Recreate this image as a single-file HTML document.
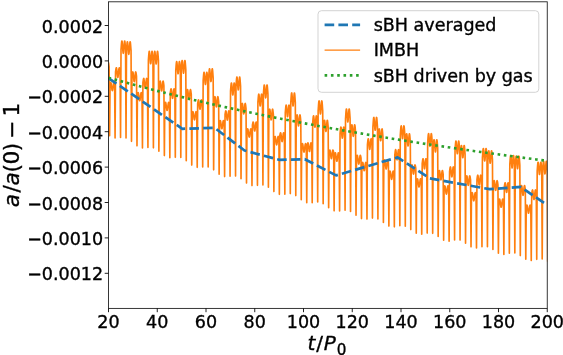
<!DOCTYPE html>
<html><head><meta charset="utf-8"><title>plot</title>
<style>html,body{margin:0;padding:0;background:#fff}svg{display:block}text{font-family:"DejaVu Sans","Liberation Sans",sans-serif;fill:#000;stroke:#000;stroke-width:0.35px}.it{font-style:oblique}</style></head><body>
<svg width="563" height="355" viewBox="0 0 563 355">
<rect width="563" height="355" fill="#fff"/>
<defs><clipPath id="c"><rect x="108.5" y="1.8" width="438.75" height="306.59999999999997"/></clipPath></defs>
<g clip-path="url(#c)" fill="none">
<path d="M104.12 131.24 L104.59 66.80 L104.75 65.62 L104.91 64.41 L105.08 63.36 L105.24 62.66 L105.40 62.42 L105.56 62.71 L105.73 63.53 L105.89 64.80 L106.05 66.37 L106.21 68.06 L106.38 69.66 L106.54 70.97 L106.70 71.83 L106.86 72.13 L107.02 71.83 L107.19 70.97 L107.35 69.66 L107.51 68.06 L107.67 66.37 L107.84 64.80 L108.00 63.53 L108.16 62.71 L108.32 62.42 L108.49 62.66 L108.65 63.36 L108.81 64.41 L108.97 65.62 L109.13 66.80 L109.60 135.76 L110.07 84.21 L110.23 83.63 L110.39 83.07 L110.55 82.66 L110.71 82.49 L110.88 82.64 L111.04 83.12 L111.20 83.94 L111.36 85.03 L111.53 86.29 L111.69 87.59 L111.85 88.80 L112.01 89.77 L112.18 90.40 L112.34 90.62 L112.50 90.40 L112.66 89.77 L112.82 88.80 L112.99 87.59 L113.15 86.29 L113.31 85.03 L113.47 83.94 L113.64 83.12 L113.80 82.64 L113.96 82.49 L114.12 82.66 L114.29 83.07 L114.45 83.63 L114.61 84.21 L115.08 137.87 L115.54 71.95 L115.70 70.80 L115.87 69.64 L116.03 68.64 L116.19 67.97 L116.35 67.76 L116.52 68.07 L116.68 68.88 L116.84 70.14 L117.00 71.69 L117.16 73.35 L117.33 74.92 L117.49 76.21 L117.65 77.06 L117.81 77.35 L117.98 77.06 L118.14 76.21 L118.30 74.92 L118.46 73.35 L118.63 71.69 L118.79 70.14 L118.95 68.88 L119.11 68.07 L119.27 67.76 L119.44 67.97 L119.60 68.64 L119.76 69.64 L119.92 70.80 L120.09 71.95 L120.55 137.48 L121.02 49.64 L121.18 47.53 L121.34 45.33 L121.50 43.32 L121.67 41.81 L121.83 40.99 L121.99 40.99 L122.15 41.81 L122.32 43.35 L122.48 45.39 L122.64 47.67 L122.80 49.87 L122.97 51.70 L123.13 52.91 L123.29 53.33 L123.45 52.91 L123.61 51.70 L123.78 49.87 L123.94 47.67 L124.10 45.39 L124.26 43.35 L124.43 41.81 L124.59 40.99 L124.75 40.99 L124.91 41.81 L125.08 43.32 L125.24 45.33 L125.40 47.53 L125.56 49.64 L126.03 137.91 L126.49 50.66 L126.66 48.52 L126.82 46.27 L126.98 44.23 L127.14 42.68 L127.31 41.83 L127.47 41.82 L127.63 42.64 L127.79 44.19 L127.95 46.25 L128.12 48.55 L128.28 50.78 L128.44 52.63 L128.60 53.86 L128.77 54.28 L128.93 53.86 L129.09 52.63 L129.25 50.78 L129.42 48.55 L129.58 46.25 L129.74 44.19 L129.90 42.64 L130.06 41.82 L130.23 41.83 L130.39 42.68 L130.55 44.23 L130.71 46.27 L130.88 48.52 L131.04 50.66 L131.50 141.34 L131.97 76.38 L132.13 75.17 L132.29 73.94 L132.46 72.87 L132.62 72.15 L132.78 71.90 L132.94 72.18 L133.11 73.00 L133.27 74.28 L133.43 75.86 L133.59 77.56 L133.76 79.18 L133.92 80.50 L134.08 81.37 L134.24 81.67 L134.40 81.37 L134.57 80.50 L134.73 79.18 L134.89 77.56 L135.05 75.86 L135.22 74.28 L135.38 73.00 L135.54 72.18 L135.70 71.90 L135.87 72.15 L136.03 72.87 L136.19 73.94 L136.35 75.17 L136.51 76.38 L136.98 145.83 L137.45 94.28 L137.61 93.70 L137.77 93.14 L137.93 92.73 L138.09 92.56 L138.26 92.70 L138.42 93.19 L138.58 94.01 L138.74 95.10 L138.91 96.36 L139.07 97.66 L139.23 98.86 L139.39 99.84 L139.56 100.47 L139.72 100.69 L139.88 100.47 L140.04 99.84 L140.20 98.86 L140.37 97.66 L140.53 96.36 L140.69 95.10 L140.85 94.01 L141.02 93.19 L141.18 92.70 L141.34 92.56 L141.50 92.73 L141.67 93.14 L141.83 93.70 L141.99 94.28 L142.46 147.95 L142.92 82.54 L143.08 81.42 L143.25 80.27 L143.41 79.30 L143.57 78.65 L143.73 78.45 L143.90 78.76 L144.06 79.58 L144.22 80.83 L144.38 82.37 L144.54 84.02 L144.71 85.58 L144.87 86.86 L145.03 87.69 L145.19 87.98 L145.36 87.69 L145.52 86.86 L145.68 85.58 L145.84 84.02 L146.01 82.37 L146.17 80.83 L146.33 79.58 L146.49 78.76 L146.65 78.45 L146.82 78.65 L146.98 79.30 L147.14 80.27 L147.30 81.42 L147.47 82.54 L147.93 147.53 L148.40 59.99 L148.56 57.90 L148.72 55.71 L148.88 53.72 L149.05 52.22 L149.21 51.41 L149.37 51.42 L149.53 52.24 L149.70 53.77 L149.86 55.80 L150.02 58.07 L150.18 60.26 L150.35 62.09 L150.51 63.29 L150.67 63.71 L150.83 63.29 L150.99 62.09 L151.16 60.26 L151.32 58.07 L151.48 55.80 L151.64 53.77 L151.81 52.24 L151.97 51.42 L152.13 51.41 L152.29 52.22 L152.46 53.72 L152.62 55.71 L152.78 57.90 L152.94 59.99 L153.41 147.85 L153.87 60.26 L154.04 58.10 L154.20 55.84 L154.36 53.79 L154.52 52.23 L154.69 51.38 L154.85 51.36 L155.01 52.18 L155.17 53.73 L155.33 55.80 L155.50 58.11 L155.66 60.35 L155.82 62.21 L155.98 63.43 L156.15 63.86 L156.31 63.43 L156.47 62.21 L156.63 60.35 L156.80 58.11 L156.96 55.80 L157.12 53.73 L157.28 52.18 L157.44 51.36 L157.61 51.38 L157.77 52.23 L157.93 53.79 L158.09 55.84 L158.26 58.10 L158.42 60.26 L158.88 151.17 L159.35 85.67 L159.51 84.44 L159.67 83.18 L159.84 82.09 L160.00 81.35 L160.16 81.08 L160.32 81.36 L160.49 82.18 L160.65 83.46 L160.81 85.05 L160.97 86.77 L161.14 88.40 L161.30 89.74 L161.46 90.62 L161.62 90.92 L161.78 90.62 L161.95 89.74 L162.11 88.40 L162.27 86.77 L162.43 85.05 L162.60 83.46 L162.76 82.18 L162.92 81.36 L163.08 81.08 L163.25 81.35 L163.41 82.09 L163.57 83.18 L163.73 84.44 L163.89 85.67 L164.36 155.61 L164.83 104.05 L164.99 103.46 L165.15 102.91 L165.31 102.49 L165.47 102.32 L165.64 102.46 L165.80 102.95 L165.96 103.77 L166.12 104.86 L166.29 106.12 L166.45 107.42 L166.61 108.63 L166.77 109.60 L166.94 110.23 L167.10 110.45 L167.26 110.23 L167.42 109.60 L167.58 108.63 L167.75 107.42 L167.91 106.12 L168.07 104.86 L168.23 103.77 L168.40 102.95 L168.56 102.46 L168.72 102.32 L168.88 102.49 L169.05 102.91 L169.21 103.46 L169.37 104.05 L169.84 157.75 L170.30 92.84 L170.46 91.74 L170.63 90.62 L170.79 89.66 L170.95 89.03 L171.11 88.85 L171.28 89.17 L171.44 89.99 L171.60 91.23 L171.76 92.76 L171.92 94.39 L172.09 95.94 L172.25 97.20 L172.41 98.03 L172.57 98.32 L172.74 98.03 L172.90 97.20 L173.06 95.94 L173.22 94.39 L173.39 92.76 L173.55 91.23 L173.71 89.99 L173.87 89.17 L174.03 88.85 L174.20 89.03 L174.36 89.66 L174.52 90.62 L174.68 91.74 L174.85 92.84 L175.31 157.30 L175.78 70.07 L175.94 67.99 L176.10 65.82 L176.26 63.85 L176.43 62.36 L176.59 61.56 L176.75 61.57 L176.91 62.39 L177.08 63.91 L177.24 65.94 L177.40 68.20 L177.56 70.39 L177.73 72.20 L177.89 73.39 L178.05 73.81 L178.21 73.39 L178.37 72.20 L178.54 70.39 L178.70 68.20 L178.86 65.94 L179.02 63.91 L179.19 62.39 L179.35 61.57 L179.51 61.56 L179.67 62.36 L179.84 63.85 L180.00 65.82 L180.16 67.99 L180.32 70.07 L180.79 157.51 L181.25 69.53 L181.42 67.36 L181.58 65.08 L181.74 63.02 L181.90 61.44 L182.07 60.58 L182.23 60.56 L182.39 61.38 L182.55 62.94 L182.71 65.01 L182.88 67.33 L183.04 69.58 L183.20 71.45 L183.36 72.68 L183.53 73.11 L183.69 72.68 L183.85 71.45 L184.01 69.58 L184.18 67.33 L184.34 65.01 L184.50 62.94 L184.66 61.38 L184.82 60.56 L184.99 60.58 L185.15 61.44 L185.31 63.02 L185.47 65.08 L185.64 67.36 L185.80 69.53 L186.26 160.69 L186.73 94.32 L186.89 93.05 L187.05 91.75 L187.22 90.62 L187.38 89.85 L187.54 89.56 L187.70 89.83 L187.87 90.65 L188.03 91.94 L188.19 93.55 L188.35 95.29 L188.52 96.94 L188.68 98.30 L188.84 99.19 L189.00 99.51 L189.16 99.19 L189.33 98.30 L189.49 96.94 L189.65 95.29 L189.81 93.55 L189.98 91.94 L190.14 90.65 L190.30 89.83 L190.46 89.56 L190.63 89.85 L190.79 90.62 L190.95 91.75 L191.11 93.05 L191.27 94.32 L191.74 165.09 L192.21 113.44 L192.37 112.85 L192.53 112.29 L192.69 111.87 L192.85 111.69 L193.02 111.83 L193.18 112.31 L193.34 113.13 L193.50 114.22 L193.67 115.49 L193.83 116.79 L193.99 118.00 L194.15 118.98 L194.32 119.61 L194.48 119.83 L194.64 119.61 L194.80 118.98 L194.96 118.00 L195.13 116.79 L195.29 115.49 L195.45 114.22 L195.61 113.13 L195.78 112.31 L195.94 111.83 L196.10 111.69 L196.26 111.87 L196.43 112.29 L196.59 112.85 L196.75 113.44 L197.22 167.31 L197.68 103.63 L197.84 102.58 L198.01 101.52 L198.17 100.62 L198.33 100.03 L198.49 99.88 L198.66 100.22 L198.82 101.04 L198.98 102.27 L199.14 103.77 L199.30 105.37 L199.47 106.88 L199.63 108.11 L199.79 108.92 L199.95 109.20 L200.12 108.92 L200.28 108.11 L200.44 106.88 L200.60 105.37 L200.77 103.77 L200.93 102.27 L201.09 101.04 L201.25 100.22 L201.41 99.88 L201.58 100.03 L201.74 100.62 L201.90 101.52 L202.06 102.58 L202.23 103.63 L202.69 166.89 L203.16 80.65 L203.32 78.62 L203.48 76.50 L203.64 74.58 L203.81 73.13 L203.97 72.36 L204.13 72.39 L204.29 73.21 L204.46 74.72 L204.62 76.72 L204.78 78.95 L204.94 81.10 L205.11 82.89 L205.27 84.07 L205.43 84.48 L205.59 84.07 L205.75 82.89 L205.92 81.10 L206.08 78.95 L206.24 76.72 L206.40 74.72 L206.57 73.21 L206.73 72.39 L206.89 72.36 L207.05 73.13 L207.22 74.58 L207.38 76.50 L207.54 78.62 L207.70 80.65 L208.17 166.92 L208.63 78.02 L208.80 75.82 L208.96 73.50 L209.12 71.40 L209.28 69.79 L209.45 68.91 L209.61 68.88 L209.77 69.70 L209.93 71.26 L210.09 73.36 L210.26 75.70 L210.42 77.97 L210.58 79.86 L210.74 81.10 L210.91 81.54 L211.07 81.10 L211.23 79.86 L211.39 77.97 L211.56 75.70 L211.72 73.36 L211.88 71.26 L212.04 69.70 L212.20 68.88 L212.37 68.91 L212.53 69.79 L212.69 71.40 L212.85 73.50 L213.02 75.82 L213.18 78.02 L213.64 169.85 L214.11 101.80 L214.27 100.46 L214.43 99.08 L214.60 97.88 L214.76 97.04 L214.92 96.71 L215.08 96.95 L215.25 97.77 L215.41 99.08 L215.57 100.73 L215.73 102.52 L215.90 104.22 L216.06 105.62 L216.22 106.54 L216.38 106.86 L216.54 106.54 L216.71 105.62 L216.87 104.22 L217.03 102.52 L217.19 100.73 L217.36 99.08 L217.52 97.77 L217.68 96.95 L217.84 96.71 L218.01 97.04 L218.17 97.88 L218.33 99.08 L218.49 100.46 L218.65 101.80 L219.12 174.22 L219.59 122.35 L219.75 121.75 L219.91 121.17 L220.07 120.74 L220.23 120.55 L220.40 120.68 L220.56 121.16 L220.72 121.98 L220.88 123.08 L221.05 124.35 L221.21 125.66 L221.37 126.88 L221.53 127.86 L221.70 128.50 L221.86 128.72 L222.02 128.50 L222.18 127.86 L222.34 126.88 L222.51 125.66 L222.67 124.35 L222.83 123.08 L222.99 121.98 L223.16 121.16 L223.32 120.68 L223.48 120.55 L223.64 120.74 L223.81 121.17 L223.97 121.75 L224.13 122.35 L224.60 176.60 L225.06 114.37 L225.22 113.39 L225.39 112.39 L225.55 111.56 L225.71 111.03 L225.87 110.91 L226.04 111.27 L226.20 112.09 L226.36 113.30 L226.52 114.77 L226.68 116.33 L226.85 117.80 L227.01 119.00 L227.17 119.79 L227.33 120.06 L227.50 119.79 L227.66 119.00 L227.82 117.80 L227.98 116.33 L228.15 114.77 L228.31 113.30 L228.47 112.09 L228.63 111.27 L228.79 110.91 L228.96 111.03 L229.12 111.56 L229.28 112.39 L229.44 113.39 L229.61 114.37 L230.07 176.23 L230.54 91.10 L230.70 89.12 L230.86 87.05 L231.02 85.18 L231.19 83.78 L231.35 83.05 L231.51 83.09 L231.67 83.91 L231.84 85.41 L232.00 87.38 L232.16 89.58 L232.32 91.70 L232.49 93.45 L232.65 94.61 L232.81 95.02 L232.97 94.61 L233.13 93.45 L233.30 91.70 L233.46 89.58 L233.62 87.38 L233.78 85.41 L233.95 83.91 L234.11 83.09 L234.27 83.05 L234.43 83.78 L234.60 85.18 L234.76 87.05 L234.92 89.12 L235.08 91.10 L235.55 176.05 L236.01 86.38 L236.18 84.15 L236.34 81.80 L236.50 79.67 L236.66 78.04 L236.83 77.15 L236.99 77.10 L237.15 77.92 L237.31 79.50 L237.47 81.61 L237.64 83.97 L237.80 86.25 L237.96 88.15 L238.12 89.41 L238.29 89.85 L238.45 89.41 L238.61 88.15 L238.77 86.25 L238.94 83.97 L239.10 81.61 L239.26 79.50 L239.42 77.92 L239.58 77.10 L239.75 77.15 L239.91 78.04 L240.07 79.67 L240.23 81.80 L240.40 84.15 L240.56 86.38 L241.02 178.73 L241.49 108.85 L241.65 107.43 L241.81 105.97 L241.98 104.69 L242.14 103.78 L242.30 103.40 L242.46 103.62 L242.63 104.44 L242.79 105.77 L242.95 107.46 L243.11 109.30 L243.28 111.05 L243.44 112.49 L243.60 113.44 L243.76 113.77 L243.92 113.44 L244.09 112.49 L244.25 111.05 L244.41 109.30 L244.57 107.46 L244.74 105.77 L244.90 104.44 L245.06 103.62 L245.22 103.40 L245.39 103.78 L245.55 104.69 L245.71 105.97 L245.87 107.43 L246.03 108.85 L246.50 183.05 L246.97 130.74 L247.13 130.11 L247.29 129.51 L247.45 129.06 L247.61 128.85 L247.78 128.97 L247.94 129.44 L248.10 130.26 L248.26 131.36 L248.43 132.64 L248.59 133.97 L248.75 135.20 L248.91 136.20 L249.08 136.85 L249.24 137.07 L249.40 136.85 L249.56 136.20 L249.72 135.20 L249.89 133.97 L250.05 132.64 L250.21 131.36 L250.37 130.26 L250.54 129.44 L250.70 128.97 L250.86 128.85 L251.02 129.06 L251.19 129.51 L251.35 130.11 L251.51 130.74 L251.98 185.61 L252.44 125.13 L252.60 124.22 L252.77 123.31 L252.93 122.55 L253.09 122.08 L253.25 122.02 L253.42 122.40 L253.58 123.22 L253.74 124.40 L253.90 125.83 L254.06 127.35 L254.23 128.77 L254.39 129.93 L254.55 130.69 L254.71 130.95 L254.88 130.69 L255.04 129.93 L255.20 128.77 L255.36 127.35 L255.53 125.83 L255.69 124.40 L255.85 123.22 L256.01 122.40 L256.17 122.02 L256.34 122.08 L256.50 122.55 L256.66 123.31 L256.82 124.22 L256.99 125.13 L257.45 185.35 L257.92 101.88 L258.08 99.98 L258.24 98.00 L258.40 96.21 L258.57 94.88 L258.73 94.19 L258.89 94.26 L259.05 95.08 L259.22 96.55 L259.38 98.49 L259.54 100.64 L259.70 102.70 L259.87 104.42 L260.03 105.55 L260.19 105.94 L260.35 105.55 L260.51 104.42 L260.68 102.70 L260.84 100.64 L261.00 98.49 L261.16 96.55 L261.33 95.08 L261.49 94.26 L261.65 94.19 L261.81 94.88 L261.98 96.21 L262.14 98.00 L262.30 99.98 L262.46 101.88 L262.93 184.96 L263.39 94.42 L263.56 92.16 L263.72 89.78 L263.88 87.61 L264.04 85.96 L264.21 85.05 L264.37 84.99 L264.53 85.81 L264.69 87.39 L264.85 89.52 L265.02 91.90 L265.18 94.20 L265.34 96.12 L265.50 97.39 L265.67 97.83 L265.83 97.39 L265.99 96.12 L266.15 94.20 L266.32 91.90 L266.48 89.52 L266.64 87.39 L266.80 85.81 L266.96 84.99 L267.13 85.05 L267.29 85.96 L267.45 87.61 L267.61 89.78 L267.78 92.16 L267.94 94.42 L268.40 187.29 L268.87 115.09 L269.03 113.57 L269.19 112.00 L269.36 110.62 L269.52 109.62 L269.68 109.18 L269.84 109.37 L270.01 110.19 L270.17 111.55 L270.33 113.29 L270.49 115.19 L270.66 117.01 L270.82 118.50 L270.98 119.49 L271.14 119.83 L271.30 119.49 L271.47 118.50 L271.63 117.01 L271.79 115.19 L271.95 113.29 L272.12 111.55 L272.28 110.19 L272.44 109.37 L272.60 109.18 L272.77 109.62 L272.93 110.62 L273.09 112.00 L273.25 113.57 L273.41 115.09 L273.88 191.55 L274.35 138.50 L274.51 137.85 L274.67 137.21 L274.83 136.72 L274.99 136.48 L275.16 136.57 L275.32 137.03 L275.48 137.85 L275.64 138.97 L275.81 140.26 L275.97 141.62 L276.13 142.87 L276.29 143.89 L276.46 144.55 L276.62 144.78 L276.78 144.55 L276.94 143.89 L277.10 142.87 L277.27 141.62 L277.43 140.26 L277.59 138.97 L277.75 137.85 L277.92 137.03 L278.08 136.57 L278.24 136.48 L278.40 136.72 L278.57 137.21 L278.73 137.85 L278.89 138.50 L279.36 194.32 L279.82 135.56 L279.98 134.72 L280.15 133.89 L280.31 133.20 L280.47 132.80 L280.63 132.78 L280.80 133.19 L280.96 134.01 L281.12 135.17 L281.28 136.56 L281.44 138.03 L281.61 139.41 L281.77 140.53 L281.93 141.26 L282.09 141.51 L282.26 141.26 L282.42 140.53 L282.58 139.41 L282.74 138.03 L282.91 136.56 L283.07 135.17 L283.23 134.01 L283.39 133.19 L283.55 132.78 L283.72 132.80 L283.88 133.20 L284.04 133.89 L284.20 134.72 L284.37 135.56 L284.83 194.19 L285.30 112.48 L285.46 110.67 L285.62 108.77 L285.78 107.07 L285.95 105.81 L286.11 105.17 L286.27 105.26 L286.43 106.08 L286.60 107.53 L286.76 109.43 L286.92 111.52 L287.08 113.54 L287.25 115.21 L287.41 116.31 L287.57 116.69 L287.73 116.31 L287.89 115.21 L288.06 113.54 L288.22 111.52 L288.38 109.43 L288.54 107.53 L288.71 106.08 L288.87 105.26 L289.03 105.17 L289.19 105.81 L289.36 107.07 L289.52 108.77 L289.68 110.67 L289.84 112.48 L290.31 193.60 L290.77 102.48 L290.94 100.20 L291.10 97.80 L291.26 95.62 L291.42 93.95 L291.59 93.02 L291.75 92.97 L291.91 93.79 L292.07 95.37 L292.23 97.51 L292.40 99.90 L292.56 102.21 L292.72 104.14 L292.88 105.41 L293.05 105.86 L293.21 105.41 L293.37 104.14 L293.53 102.21 L293.70 99.90 L293.86 97.51 L294.02 95.37 L294.18 93.79 L294.34 92.97 L294.51 93.02 L294.67 93.95 L294.83 95.62 L294.99 97.80 L295.16 100.20 L295.32 102.48 L295.78 195.61 L296.25 121.23 L296.41 119.62 L296.57 117.96 L296.74 116.48 L296.90 115.40 L297.06 114.90 L297.22 115.06 L297.39 115.88 L297.55 117.27 L297.71 119.06 L297.87 121.01 L298.04 122.89 L298.20 124.44 L298.36 125.46 L298.52 125.81 L298.68 125.46 L298.85 124.44 L299.01 122.89 L299.17 121.01 L299.33 119.06 L299.50 117.27 L299.66 115.88 L299.82 115.06 L299.98 114.90 L300.15 115.40 L300.31 116.48 L300.47 117.96 L300.63 119.62 L300.79 121.23 L301.26 199.77 L301.73 145.81 L301.89 145.11 L302.05 144.43 L302.21 143.89 L302.37 143.61 L302.54 143.68 L302.70 144.13 L302.86 144.95 L303.02 146.07 L303.19 147.40 L303.35 148.77 L303.51 150.06 L303.67 151.10 L303.84 151.77 L304.00 152.01 L304.16 151.77 L304.32 151.10 L304.48 150.06 L304.65 148.77 L304.81 147.40 L304.97 146.07 L305.13 144.95 L305.30 144.13 L305.46 143.68 L305.62 143.61 L305.78 143.89 L305.95 144.43 L306.11 145.11 L306.27 145.81 L306.74 202.73 L307.20 145.44 L307.36 144.66 L307.53 143.89 L307.69 143.27 L307.85 142.92 L308.01 142.94 L308.18 143.37 L308.34 144.19 L308.50 145.33 L308.66 146.70 L308.82 148.12 L308.99 149.46 L309.15 150.54 L309.31 151.25 L309.47 151.50 L309.64 151.25 L309.80 150.54 L309.96 149.46 L310.12 148.12 L310.29 146.70 L310.45 145.33 L310.61 144.19 L310.77 143.37 L310.93 142.94 L311.10 142.92 L311.26 143.27 L311.42 143.89 L311.58 144.66 L311.75 145.44 L312.21 202.73 L312.68 122.82 L312.84 121.08 L313.00 119.27 L313.16 117.66 L313.33 116.47 L313.49 115.88 L313.65 116.00 L313.81 116.82 L313.98 118.25 L314.14 120.10 L314.30 122.14 L314.46 124.10 L314.63 125.73 L314.79 126.79 L314.95 127.17 L315.11 126.79 L315.27 125.73 L315.44 124.10 L315.60 122.14 L315.76 120.10 L315.92 118.25 L316.09 116.82 L316.25 116.00 L316.41 115.88 L316.57 116.47 L316.74 117.66 L316.90 119.27 L317.06 121.08 L317.22 122.82 L317.69 201.98 L318.15 110.50 L318.32 108.22 L318.48 105.81 L318.64 103.62 L318.80 101.95 L318.97 101.02 L319.13 100.96 L319.29 101.78 L319.45 103.37 L319.61 105.50 L319.78 107.90 L319.94 110.22 L320.10 112.15 L320.26 113.43 L320.43 113.87 L320.59 113.43 L320.75 112.15 L320.91 110.22 L321.08 107.90 L321.24 105.50 L321.40 103.37 L321.56 101.78 L321.72 100.96 L321.89 101.02 L322.05 101.95 L322.21 103.62 L322.37 105.81 L322.54 108.22 L322.70 110.50 L323.16 203.67 L323.63 127.05 L323.79 125.36 L323.95 123.59 L324.12 122.02 L324.28 120.86 L324.44 120.30 L324.60 120.43 L324.77 121.25 L324.93 122.67 L325.09 124.50 L325.25 126.52 L325.42 128.45 L325.58 130.05 L325.74 131.11 L325.90 131.48 L326.06 131.11 L326.23 130.05 L326.39 128.45 L326.55 126.52 L326.71 124.50 L326.88 122.67 L327.04 121.25 L327.20 120.43 L327.36 120.30 L327.53 120.86 L327.69 122.02 L327.85 123.59 L328.01 125.36 L328.17 127.05 L328.64 207.69 L329.11 152.47 L329.27 151.71 L329.43 150.97 L329.59 150.37 L329.75 150.04 L329.92 150.07 L330.08 150.51 L330.24 151.33 L330.40 152.47 L330.57 153.82 L330.73 155.23 L330.89 156.55 L331.05 157.62 L331.22 158.32 L331.38 158.56 L331.54 158.32 L331.70 157.62 L331.86 156.55 L332.03 155.23 L332.19 153.82 L332.35 152.47 L332.51 151.33 L332.68 150.51 L332.84 150.07 L333.00 150.04 L333.16 150.37 L333.33 150.97 L333.49 151.71 L333.65 152.47 L334.12 210.83 L334.58 155.08 L334.74 154.36 L334.91 153.66 L335.07 153.11 L335.23 152.82 L335.39 152.88 L335.56 153.32 L335.72 154.14 L335.88 155.27 L336.04 156.60 L336.20 157.99 L336.37 159.28 L336.53 160.33 L336.69 161.01 L336.85 161.25 L337.02 161.01 L337.18 160.33 L337.34 159.28 L337.50 157.99 L337.67 156.60 L337.83 155.27 L337.99 154.14 L338.15 153.32 L338.31 152.88 L338.48 152.82 L338.64 153.11 L338.80 153.66 L338.96 154.36 L339.13 155.08 L339.59 211.04 L340.06 133.53 L340.22 131.90 L340.38 130.21 L340.54 128.70 L340.71 127.61 L340.87 127.09 L341.03 127.24 L341.19 128.06 L341.36 129.46 L341.52 131.26 L341.68 133.23 L341.84 135.12 L342.01 136.68 L342.17 137.71 L342.33 138.07 L342.49 137.71 L342.65 136.68 L342.82 135.12 L342.98 133.23 L343.14 131.26 L343.30 129.46 L343.47 128.06 L343.63 127.24 L343.79 127.09 L343.95 127.61 L344.12 128.70 L344.28 130.21 L344.44 131.90 L344.60 133.53 L345.07 210.15 L345.53 118.55 L345.70 116.26 L345.86 113.87 L346.02 111.68 L346.18 110.01 L346.35 109.08 L346.51 109.03 L346.67 109.85 L346.83 111.43 L346.99 113.57 L347.16 115.96 L347.32 118.28 L347.48 120.21 L347.64 121.48 L347.81 121.92 L347.97 121.48 L348.13 120.21 L348.29 118.28 L348.46 115.96 L348.62 113.57 L348.78 111.43 L348.94 109.85 L349.10 109.03 L349.27 109.08 L349.43 110.01 L349.59 111.68 L349.75 113.87 L349.92 116.26 L350.08 118.55 L350.54 211.43 L351.01 132.05 L351.17 130.24 L351.33 128.35 L351.50 126.66 L351.66 125.41 L351.82 124.78 L351.98 124.87 L352.15 125.69 L352.31 127.14 L352.47 129.03 L352.63 131.12 L352.80 133.13 L352.96 134.79 L353.12 135.89 L353.28 136.27 L353.44 135.89 L353.61 134.79 L353.77 133.13 L353.93 131.12 L354.09 129.03 L354.26 127.14 L354.42 125.69 L354.58 124.87 L354.74 124.78 L354.91 125.41 L355.07 126.66 L355.23 128.35 L355.39 130.24 L355.55 132.05 L356.02 215.25 L356.49 158.15 L356.65 157.31 L356.81 156.47 L356.97 155.79 L357.13 155.39 L357.30 155.37 L357.46 155.77 L357.62 156.59 L357.78 157.76 L357.95 159.15 L358.11 160.62 L358.27 161.99 L358.43 163.11 L358.60 163.84 L358.76 164.10 L358.92 163.84 L359.08 163.11 L359.24 161.99 L359.41 160.62 L359.57 159.15 L359.73 157.76 L359.89 156.59 L360.06 155.77 L360.22 155.37 L360.38 155.39 L360.54 155.79 L360.71 156.47 L360.87 157.31 L361.03 158.15 L361.50 218.61 L361.96 164.39 L362.12 163.74 L362.29 163.11 L362.45 162.62 L362.61 162.38 L362.77 162.48 L362.94 162.94 L363.10 163.76 L363.26 164.87 L363.42 166.17 L363.58 167.52 L363.75 168.77 L363.91 169.78 L364.07 170.44 L364.23 170.67 L364.40 170.44 L364.56 169.78 L364.72 168.77 L364.88 167.52 L365.05 166.17 L365.21 164.87 L365.37 163.76 L365.53 162.94 L365.69 162.48 L365.86 162.38 L366.02 162.62 L366.18 163.11 L366.34 163.74 L366.51 164.39 L366.97 219.11 L367.44 144.55 L367.60 143.06 L367.76 141.51 L367.92 140.14 L368.09 139.16 L368.25 138.73 L368.41 138.92 L368.57 139.74 L368.74 141.10 L368.90 142.83 L369.06 144.72 L369.22 146.52 L369.39 148.01 L369.55 148.99 L369.71 149.33 L369.87 148.99 L370.03 148.01 L370.20 146.52 L370.36 144.72 L370.52 142.83 L370.68 141.10 L370.85 139.74 L371.01 138.92 L371.17 138.73 L371.33 139.16 L371.50 140.14 L371.66 141.51 L371.82 143.06 L371.98 144.55 L372.45 218.11 L372.91 126.84 L373.08 124.58 L373.24 122.21 L373.40 120.06 L373.56 118.41 L373.73 117.50 L373.89 117.45 L374.05 118.27 L374.21 119.85 L374.37 121.97 L374.54 124.34 L374.70 126.64 L374.86 128.56 L375.02 129.82 L375.19 130.26 L375.35 129.82 L375.51 128.56 L375.67 126.64 L375.84 124.34 L376.00 121.97 L376.16 119.85 L376.32 118.27 L376.48 117.45 L376.65 117.50 L376.81 118.41 L376.97 120.06 L377.13 122.21 L377.30 124.58 L377.46 126.84 L377.92 218.94 L378.39 136.73 L378.55 134.81 L378.71 132.80 L378.88 130.98 L379.04 129.63 L379.20 128.93 L379.36 128.98 L379.53 129.80 L379.69 131.28 L379.85 133.24 L380.01 135.40 L380.18 137.48 L380.34 139.21 L380.50 140.35 L380.66 140.75 L380.82 140.35 L380.99 139.21 L381.15 137.48 L381.31 135.40 L381.47 133.24 L381.64 131.28 L381.80 129.80 L381.96 128.98 L382.12 128.93 L382.29 129.63 L382.45 130.98 L382.61 132.80 L382.77 134.81 L382.93 136.73 L383.40 222.52 L383.87 163.19 L384.03 162.25 L384.19 161.31 L384.35 160.52 L384.51 160.03 L384.68 159.95 L384.84 160.32 L385.00 161.14 L385.16 162.34 L385.33 163.78 L385.49 165.31 L385.65 166.75 L385.81 167.93 L385.98 168.69 L386.14 168.96 L386.30 168.69 L386.46 167.93 L386.62 166.75 L386.79 165.31 L386.95 163.78 L387.11 162.34 L387.27 161.14 L387.44 160.32 L387.60 159.95 L387.76 160.03 L387.92 160.52 L388.09 161.31 L388.25 162.25 L388.41 163.19 L388.88 226.07 L389.34 172.91 L389.50 172.30 L389.67 171.71 L389.83 171.27 L389.99 171.07 L390.15 171.19 L390.32 171.67 L390.48 172.49 L390.64 173.59 L390.80 174.86 L390.96 176.18 L391.13 177.41 L391.29 178.40 L391.45 179.04 L391.61 179.27 L391.78 179.04 L391.94 178.40 L392.10 177.41 L392.26 176.18 L392.43 174.86 L392.59 173.59 L392.75 172.49 L392.91 171.67 L393.07 171.19 L393.24 171.07 L393.40 171.27 L393.56 171.71 L393.72 172.30 L393.89 172.91 L394.35 226.85 L394.82 154.90 L394.98 153.52 L395.14 152.10 L395.30 150.85 L395.47 149.98 L395.63 149.61 L395.79 149.85 L395.95 150.67 L396.12 151.99 L396.28 153.66 L396.44 155.47 L396.60 157.20 L396.77 158.63 L396.93 159.56 L397.09 159.88 L397.25 159.56 L397.41 158.63 L397.58 157.20 L397.74 155.47 L397.90 153.66 L398.06 151.99 L398.23 150.67 L398.39 149.85 L398.55 149.61 L398.71 149.98 L398.88 150.85 L399.04 152.10 L399.20 153.52 L399.36 154.90 L399.83 225.78 L400.29 135.11 L400.46 132.89 L400.62 130.56 L400.78 128.44 L400.94 126.83 L401.11 125.94 L401.27 125.90 L401.43 126.72 L401.59 128.29 L401.75 130.39 L401.92 132.74 L402.08 135.02 L402.24 136.91 L402.40 138.16 L402.57 138.60 L402.73 138.16 L402.89 136.91 L403.05 135.02 L403.22 132.74 L403.38 130.39 L403.54 128.29 L403.70 126.72 L403.86 125.90 L404.03 125.94 L404.19 126.83 L404.35 128.44 L404.51 130.56 L404.68 132.89 L404.84 135.11 L405.30 226.24 L405.77 142.01 L405.93 140.00 L406.09 137.91 L406.26 136.01 L406.42 134.59 L406.58 133.83 L406.74 133.86 L406.91 134.68 L407.07 136.19 L407.23 138.18 L407.39 140.39 L407.56 142.53 L407.72 144.30 L407.88 145.47 L408.04 145.88 L408.20 145.47 L408.37 144.30 L408.53 142.53 L408.69 140.39 L408.85 138.18 L409.02 136.19 L409.18 134.68 L409.34 133.86 L409.50 133.83 L409.67 134.59 L409.83 136.01 L409.99 137.91 L410.15 140.00 L410.31 142.01 L410.78 229.59 L411.25 168.49 L411.41 167.47 L411.57 166.45 L411.73 165.58 L411.89 165.03 L412.06 164.90 L412.22 165.25 L412.38 166.07 L412.54 167.29 L412.71 168.77 L412.87 170.35 L413.03 171.84 L413.19 173.05 L413.36 173.85 L413.52 174.13 L413.68 173.85 L413.84 173.05 L414.00 171.84 L414.17 170.35 L414.33 168.77 L414.49 167.29 L414.65 166.07 L414.82 165.25 L414.98 164.90 L415.14 165.03 L415.30 165.58 L415.47 166.45 L415.63 167.47 L415.79 168.49 L416.26 233.25 L416.72 180.55 L416.88 179.96 L417.05 179.39 L417.21 178.96 L417.37 178.78 L417.53 178.91 L417.70 179.39 L417.86 180.21 L418.02 181.31 L418.18 182.57 L418.34 183.88 L418.51 185.10 L418.67 186.08 L418.83 186.72 L418.99 186.94 L419.16 186.72 L419.32 186.08 L419.48 185.10 L419.64 183.88 L419.81 182.57 L419.97 181.31 L420.13 180.21 L420.29 179.39 L420.45 178.91 L420.62 178.78 L420.78 178.96 L420.94 179.39 L421.10 179.96 L421.27 180.55 L421.73 234.20 L422.20 163.72 L422.36 162.41 L422.52 161.06 L422.68 159.88 L422.85 159.06 L423.01 158.75 L423.17 159.00 L423.33 159.82 L423.50 161.12 L423.66 162.76 L423.82 164.53 L423.98 166.21 L424.15 167.60 L424.31 168.51 L424.47 168.82 L424.63 168.51 L424.79 167.60 L424.96 166.21 L425.12 164.53 L425.28 162.76 L425.44 161.12 L425.61 159.82 L425.77 159.00 L425.93 158.75 L426.09 159.06 L426.26 159.88 L426.42 161.06 L426.58 162.41 L426.74 163.72 L427.21 233.06 L427.67 142.77 L427.84 140.57 L428.00 138.27 L428.16 136.18 L428.32 134.58 L428.49 133.71 L428.65 133.68 L428.81 134.50 L428.97 136.06 L429.13 138.15 L429.30 140.48 L429.46 142.75 L429.62 144.63 L429.78 145.87 L429.95 146.30 L430.11 145.87 L430.27 144.63 L430.43 142.75 L430.60 140.48 L430.76 138.15 L430.92 136.06 L431.08 134.50 L431.24 133.68 L431.41 133.71 L431.57 134.58 L431.73 136.18 L431.89 138.27 L432.06 140.57 L432.22 142.77 L432.68 233.31 L433.15 148.07 L433.31 146.03 L433.47 143.90 L433.64 141.96 L433.80 140.50 L433.96 139.73 L434.12 139.75 L434.29 140.57 L434.45 142.08 L434.61 144.09 L434.77 146.33 L434.94 148.49 L435.10 150.28 L435.26 151.47 L435.42 151.88 L435.58 151.47 L435.75 150.28 L435.91 148.49 L436.07 146.33 L436.23 144.09 L436.40 142.08 L436.56 140.57 L436.72 139.75 L436.88 139.73 L437.05 140.50 L437.21 141.96 L437.37 143.90 L437.53 146.03 L437.69 148.07 L438.16 236.50 L438.63 174.33 L438.79 173.27 L438.95 172.20 L439.11 171.29 L439.27 170.70 L439.44 170.54 L439.60 170.88 L439.76 171.70 L439.92 172.93 L440.09 174.43 L440.25 176.04 L440.41 177.55 L440.57 178.80 L440.74 179.61 L440.90 179.89 L441.06 179.61 L441.22 178.80 L441.38 177.55 L441.55 176.04 L441.71 174.43 L441.87 172.93 L442.03 171.70 L442.20 170.88 L442.36 170.54 L442.52 170.70 L442.68 171.29 L442.85 172.20 L443.01 173.27 L443.17 174.33 L443.64 240.18 L444.10 187.63 L444.26 187.04 L444.43 186.48 L444.59 186.06 L444.75 185.89 L444.91 186.02 L445.08 186.51 L445.24 187.33 L445.40 188.42 L445.56 189.68 L445.72 190.99 L445.89 192.20 L446.05 193.17 L446.21 193.81 L446.37 194.03 L446.54 193.81 L446.70 193.17 L446.86 192.20 L447.02 190.99 L447.19 189.68 L447.35 188.42 L447.51 187.33 L447.67 186.51 L447.83 186.02 L448.00 185.89 L448.16 186.06 L448.32 186.48 L448.48 187.04 L448.65 187.63 L449.11 241.21 L449.58 171.69 L449.74 170.42 L449.90 169.12 L450.06 167.99 L450.23 167.21 L450.39 166.92 L450.55 167.19 L450.71 168.01 L450.88 169.30 L451.04 170.91 L451.20 172.65 L451.36 174.31 L451.53 175.67 L451.69 176.56 L451.85 176.87 L452.01 176.56 L452.17 175.67 L452.34 174.31 L452.50 172.65 L452.66 170.91 L452.82 169.30 L452.99 168.01 L453.15 167.19 L453.31 166.92 L453.47 167.21 L453.64 167.99 L453.80 169.12 L453.96 170.42 L454.12 171.69 L454.59 240.04 L455.05 150.07 L455.22 147.89 L455.38 145.61 L455.54 143.54 L455.70 141.96 L455.87 141.10 L456.03 141.08 L456.19 141.90 L456.35 143.45 L456.51 145.53 L456.68 147.85 L456.84 150.10 L457.00 151.97 L457.16 153.20 L457.33 153.64 L457.49 153.20 L457.65 151.97 L457.81 150.10 L457.98 147.85 L458.14 145.53 L458.30 143.45 L458.46 141.90 L458.62 141.08 L458.79 141.10 L458.95 141.96 L459.11 143.54 L459.27 145.61 L459.44 147.89 L459.60 150.07 L460.06 240.11 L460.53 154.01 L460.69 151.94 L460.85 149.77 L461.02 147.81 L461.18 146.32 L461.34 145.52 L461.50 145.53 L461.67 146.35 L461.83 147.88 L461.99 149.91 L462.15 152.16 L462.32 154.34 L462.48 156.15 L462.64 157.35 L462.80 157.77 L462.96 157.35 L463.13 156.15 L463.29 154.34 L463.45 152.16 L463.61 149.91 L463.78 147.88 L463.94 146.35 L464.10 145.53 L464.26 145.52 L464.43 146.32 L464.59 147.81 L464.75 149.77 L464.91 151.94 L465.07 154.01 L465.54 243.14 L466.01 179.87 L466.17 178.76 L466.33 177.64 L466.49 176.69 L466.65 176.06 L466.82 175.87 L466.98 176.19 L467.14 177.01 L467.30 178.25 L467.47 179.78 L467.63 181.42 L467.79 182.96 L467.95 184.23 L468.12 185.06 L468.28 185.35 L468.44 185.06 L468.60 184.23 L468.76 182.96 L468.93 181.42 L469.09 179.78 L469.25 178.25 L469.41 177.01 L469.58 176.19 L469.74 175.87 L469.90 176.06 L470.06 176.69 L470.23 177.64 L470.39 178.76 L470.55 179.87 L471.02 246.82 L471.48 194.37 L471.64 193.78 L471.81 193.23 L471.97 192.82 L472.13 192.64 L472.29 192.79 L472.46 193.27 L472.62 194.09 L472.78 195.18 L472.94 196.44 L473.10 197.75 L473.27 198.95 L473.43 199.92 L473.59 200.56 L473.75 200.78 L473.92 200.56 L474.08 199.92 L474.24 198.95 L474.40 197.75 L474.57 196.44 L474.73 195.18 L474.89 194.09 L475.05 193.27 L475.21 192.79 L475.38 192.64 L475.54 192.82 L475.70 193.23 L475.86 193.78 L476.03 194.37 L476.49 247.95 L476.96 179.63 L477.12 178.42 L477.28 177.18 L477.44 176.10 L477.61 175.37 L477.77 175.12 L477.93 175.40 L478.09 176.22 L478.26 177.50 L478.42 179.08 L478.58 180.79 L478.74 182.41 L478.91 183.74 L479.07 184.61 L479.23 184.91 L479.39 184.61 L479.55 183.74 L479.72 182.41 L479.88 180.79 L480.04 179.08 L480.20 177.50 L480.37 176.22 L480.53 175.40 L480.69 175.12 L480.85 175.37 L481.02 176.10 L481.18 177.18 L481.34 178.42 L481.50 179.63 L481.97 246.77 L482.43 157.36 L482.60 155.22 L482.76 152.97 L482.92 150.93 L483.08 149.38 L483.25 148.54 L483.41 148.53 L483.57 149.35 L483.73 150.89 L483.89 152.96 L484.06 155.26 L484.22 157.49 L484.38 159.34 L484.54 160.56 L484.71 160.99 L484.87 160.56 L485.03 159.34 L485.19 157.49 L485.36 155.26 L485.52 152.96 L485.68 150.89 L485.84 149.35 L486.00 148.53 L486.17 148.54 L486.33 149.38 L486.49 150.93 L486.65 152.97 L486.82 155.22 L486.98 157.36 L487.44 246.64 L487.91 159.48 L488.07 157.37 L488.23 155.16 L488.40 153.15 L488.56 151.63 L488.72 150.81 L488.88 150.81 L489.05 151.63 L489.21 153.17 L489.37 155.21 L489.53 157.49 L489.70 159.70 L489.86 161.53 L490.02 162.74 L490.18 163.16 L490.34 162.74 L490.51 161.53 L490.67 159.70 L490.83 157.49 L490.99 155.21 L491.16 153.17 L491.32 151.63 L491.48 150.81 L491.64 150.81 L491.81 151.63 L491.97 153.15 L492.13 155.16 L492.29 157.37 L492.45 159.48 L492.92 249.48 L493.39 184.92 L493.55 183.76 L493.71 182.58 L493.87 181.57 L494.03 180.89 L494.20 180.68 L494.36 180.98 L494.52 181.80 L494.68 183.06 L494.85 184.61 L495.01 186.28 L495.17 187.86 L495.33 189.16 L495.50 190.01 L495.66 190.30 L495.82 190.01 L495.98 189.16 L496.14 187.86 L496.31 186.28 L496.47 184.61 L496.63 183.06 L496.79 181.80 L496.96 180.98 L497.12 180.68 L497.28 180.89 L497.44 181.57 L497.61 182.58 L497.77 183.76 L497.93 184.92 L498.40 253.17 L498.86 200.74 L499.02 200.16 L499.19 199.60 L499.35 199.19 L499.51 199.02 L499.67 199.16 L499.84 199.65 L500.00 200.47 L500.16 201.56 L500.32 202.82 L500.48 204.12 L500.65 205.33 L500.81 206.30 L500.97 206.93 L501.13 207.15 L501.30 206.93 L501.46 206.30 L501.62 205.33 L501.78 204.12 L501.95 202.82 L502.11 201.56 L502.27 200.47 L502.43 199.65 L502.59 199.16 L502.76 199.02 L502.92 199.19 L503.08 199.60 L503.24 200.16 L503.41 200.74 L503.87 254.40 L504.34 187.07 L504.50 185.90 L504.66 184.71 L504.82 183.69 L504.99 183.00 L505.15 182.77 L505.31 183.07 L505.47 183.89 L505.64 185.15 L505.80 186.71 L505.96 188.39 L506.12 189.98 L506.29 191.28 L506.45 192.14 L506.61 192.43 L506.77 192.14 L506.93 191.28 L507.10 189.98 L507.26 188.39 L507.42 186.71 L507.58 185.15 L507.75 183.89 L507.91 183.07 L508.07 182.77 L508.23 183.00 L508.40 183.69 L508.56 184.71 L508.72 185.90 L508.88 187.07 L509.35 253.20 L509.81 164.22 L509.98 162.10 L510.14 159.88 L510.30 157.86 L510.46 156.34 L510.63 155.51 L510.79 155.51 L510.95 156.33 L511.11 157.87 L511.27 159.92 L511.44 162.20 L511.60 164.41 L511.76 166.25 L511.92 167.46 L512.09 167.89 L512.25 167.46 L512.41 166.25 L512.57 164.41 L512.74 162.20 L512.90 159.92 L513.06 157.87 L513.22 156.33 L513.38 155.51 L513.55 155.51 L513.71 156.34 L513.87 157.86 L514.03 159.88 L514.20 162.10 L514.36 164.22 L514.82 252.89 L515.29 164.99 L515.45 162.85 L515.61 160.61 L515.78 158.58 L515.94 157.04 L516.10 156.20 L516.26 156.19 L516.43 157.01 L516.59 158.56 L516.75 160.62 L516.91 162.91 L517.08 165.14 L517.24 166.98 L517.40 168.20 L517.56 168.63 L517.72 168.20 L517.89 166.98 L518.05 165.14 L518.21 162.91 L518.37 160.62 L518.54 158.56 L518.70 157.01 L518.86 156.19 L519.02 156.20 L519.19 157.04 L519.35 158.58 L519.51 160.61 L519.67 162.85 L519.83 164.99 L520.30 255.57 L520.77 189.97 L520.93 188.78 L521.09 187.56 L521.25 186.50 L521.41 185.79 L521.58 185.54 L521.74 185.83 L521.90 186.65 L522.06 187.92 L522.23 189.50 L522.39 191.20 L522.55 192.80 L522.71 194.12 L522.88 194.99 L523.04 195.29 L523.20 194.99 L523.36 194.12 L523.52 192.80 L523.69 191.20 L523.85 189.50 L524.01 187.92 L524.17 186.65 L524.34 185.83 L524.50 185.54 L524.66 185.79 L524.82 186.50 L524.99 187.56 L525.15 188.78 L525.31 189.97 L525.78 259.25 L526.24 206.75 L526.40 206.17 L526.57 205.62 L526.73 205.20 L526.89 205.03 L527.05 205.17 L527.22 205.66 L527.38 206.48 L527.54 207.57 L527.70 208.83 L527.86 210.13 L528.03 211.34 L528.19 212.31 L528.35 212.94 L528.51 213.16 L528.68 212.94 L528.84 212.31 L529.00 211.34 L529.16 210.13 L529.33 208.83 L529.49 207.57 L529.65 206.48 L529.81 205.66 L529.97 205.17 L530.14 205.03 L530.30 205.20 L530.46 205.62 L530.62 206.17 L530.79 206.75 L531.25 260.55 L531.72 194.06 L531.88 192.94 L532.04 191.79 L532.20 190.81 L532.37 190.15 L532.53 189.95 L532.69 190.27 L532.85 191.09 L533.02 192.34 L533.18 193.88 L533.34 195.53 L533.50 197.09 L533.67 198.37 L533.83 199.21 L533.99 199.50 L534.15 199.21 L534.31 198.37 L534.48 197.09 L534.64 195.53 L534.80 193.88 L534.96 192.34 L535.13 191.09 L535.29 190.27 L535.45 189.95 L535.61 190.15 L535.78 190.81 L535.94 191.79 L536.10 192.94 L536.26 194.06 L536.73 259.34 L537.19 170.80 L537.36 168.71 L537.52 166.52 L537.68 164.53 L537.84 163.03 L538.01 162.22 L538.17 162.23 L538.33 163.05 L538.49 164.58 L538.65 166.61 L538.82 168.88 L538.98 171.08 L539.14 172.90 L539.30 174.10 L539.47 174.52 L539.63 174.10 L539.79 172.90 L539.95 171.08 L540.12 168.88 L540.28 166.61 L540.44 164.58 L540.60 163.05 L540.76 162.23 L540.93 162.22 L541.09 163.03 L541.25 164.53 L541.41 166.52 L541.58 168.71 L541.74 170.80 L542.20 258.88 L542.67 170.25 L542.83 168.09 L542.99 165.83 L543.16 163.77 L543.32 162.21 L543.48 161.36 L543.64 161.34 L543.81 162.16 L543.97 163.71 L544.13 165.79 L544.29 168.10 L544.46 170.33 L544.62 172.19 L544.78 173.42 L544.94 173.85 L545.10 173.42 L545.27 172.19 L545.43 170.33 L545.59 168.10 L545.75 165.79 L545.92 163.71 L546.08 162.16 L546.24 161.34 L546.40 161.36 L546.57 162.21 L546.73 163.77 L546.89 165.83 L547.05 168.09 L547.21 170.25 L547.68 261.40 L548.15 194.73 L548.31 193.49 L548.47 192.23 L548.63 191.13 L548.79 190.38 L548.96 190.11 L549.12 190.39 L549.28 191.21 L549.44 192.49 L549.61 194.08 L549.77 195.81 L549.93 197.44 L550.09 198.78 L550.26 199.66 L550.42 199.97 L550.58 199.66 L550.74 198.78 L550.90 197.44 L551.07 195.81 L551.23 194.08 L551.39 192.49 L551.55 191.21 L551.72 190.39 L551.88 190.11 L552.04 190.38 L552.20 191.13 L552.37 192.23 L552.53 193.49 L552.69 194.73 L553.16 265.05 L553.62 212.42 L553.78 211.84 L553.95 211.28 L554.11 210.87 L554.27 210.69 L554.43 210.84 L554.60 211.32 L554.76 212.14 L554.92 213.23 L555.08 214.49 L555.24 215.80 L555.41 217.00 L555.57 217.98 L555.73 218.61 L555.89 218.83 L556.06 218.61 L556.22 217.98 L556.38 217.00 L556.54 215.80 L556.71 214.49 L556.87 213.23 L557.03 212.14 L557.19 211.32 L557.35 210.84 L557.52 210.69 L557.68 210.87 L557.84 211.28 L558.00 211.84 L558.17 212.42" stroke="#ff7f0e" stroke-width="1.65" stroke-linejoin="round"/>
<path d="M108.50 78.10 L182.30 128.80 L214.60 127.80 L244.50 150.50 L279.20 159.80 L304.80 159.20 L336.10 175.40 L397.60 157.40 L429.90 178.40 L489.60 189.20 L520.40 186.90 L547.25 205.00" stroke="#1f77b4" stroke-width="2.7" stroke-dasharray="9.6 4.2" stroke-linejoin="round"/>
<path d="M108.50 77.70 L112.19 78.75 L115.87 79.79 L119.56 80.83 L123.25 81.85 L126.93 82.87 L130.62 83.87 L134.31 84.87 L138.00 85.86 L141.68 86.84 L145.37 87.82 L149.06 88.78 L152.74 89.74 L156.43 90.69 L160.12 91.64 L163.80 92.57 L167.49 93.50 L171.18 94.42 L174.87 95.33 L178.55 96.24 L182.24 97.13 L185.93 98.02 L189.61 98.91 L193.30 99.79 L196.99 100.65 L200.67 101.52 L204.36 102.37 L208.05 103.22 L211.74 104.07 L215.42 104.90 L219.11 105.73 L222.80 106.56 L226.48 107.37 L230.17 108.19 L233.86 108.99 L237.54 109.79 L241.23 110.58 L244.92 111.37 L248.61 112.15 L252.29 112.93 L255.98 113.70 L259.67 114.46 L263.35 115.22 L267.04 115.97 L270.73 116.72 L274.41 117.46 L278.10 118.20 L281.79 118.93 L285.47 119.65 L289.16 120.37 L292.85 121.09 L296.54 121.80 L300.22 122.50 L303.91 123.21 L307.60 123.90 L311.28 124.59 L314.97 125.28 L318.66 125.96 L322.34 126.64 L326.03 127.31 L329.72 127.97 L333.41 128.64 L337.09 129.30 L340.78 129.95 L344.47 130.60 L348.15 131.24 L351.84 131.89 L355.53 132.52 L359.21 133.15 L362.90 133.78 L366.59 134.41 L370.28 135.03 L373.96 135.64 L377.65 136.26 L381.34 136.87 L385.02 137.47 L388.71 138.07 L392.40 138.67 L396.08 139.26 L399.77 139.85 L403.46 140.44 L407.14 141.02 L410.83 141.60 L414.52 142.17 L418.21 142.75 L421.89 143.31 L425.58 143.88 L429.27 144.44 L432.95 145.00 L436.64 145.56 L440.33 146.11 L444.01 146.66 L447.70 147.20 L451.39 147.74 L455.08 148.28 L458.76 148.82 L462.45 149.35 L466.14 149.88 L469.82 150.41 L473.51 150.93 L477.20 151.46 L480.88 151.97 L484.57 152.49 L488.26 153.00 L491.95 153.51 L495.63 154.02 L499.32 154.53 L503.01 155.03 L506.69 155.53 L510.38 156.02 L514.07 156.52 L517.75 157.01 L521.44 157.50 L525.13 157.99 L528.82 158.47 L532.50 158.95 L536.19 159.43 L539.88 159.91 L543.56 160.38 L547.25 160.86" stroke="#2ca02c" stroke-width="2.6" stroke-dasharray="2.6 3.7"/>
</g>
<rect x="108.5" y="1.8" width="438.75" height="306.59999999999997" fill="none" stroke="#1a1a1a" stroke-width="0.87"/>
<path d="M108.50 308.4 v3.8 M157.25 308.4 v3.8 M206.00 308.4 v3.8 M254.75 308.4 v3.8 M303.50 308.4 v3.8 M352.25 308.4 v3.8 M401.00 308.4 v3.8 M449.75 308.4 v3.8 M498.50 308.4 v3.8 M547.25 308.4 v3.8 M108.5 25.50 h-3.8 M108.5 60.90 h-3.8 M108.5 96.30 h-3.8 M108.5 131.70 h-3.8 M108.5 167.10 h-3.8 M108.5 202.50 h-3.8 M108.5 237.90 h-3.8 M108.5 273.30 h-3.8" stroke="#000" stroke-width="0.87" fill="none"/>
<text x="108.50" y="328.2" font-size="17.55" text-anchor="middle">20</text>
<text x="157.25" y="328.2" font-size="17.55" text-anchor="middle">40</text>
<text x="206.00" y="328.2" font-size="17.55" text-anchor="middle">60</text>
<text x="254.75" y="328.2" font-size="17.55" text-anchor="middle">80</text>
<text x="303.50" y="328.2" font-size="17.55" text-anchor="middle">100</text>
<text x="352.25" y="328.2" font-size="17.55" text-anchor="middle">120</text>
<text x="401.00" y="328.2" font-size="17.55" text-anchor="middle">140</text>
<text x="449.75" y="328.2" font-size="17.55" text-anchor="middle">160</text>
<text x="498.50" y="328.2" font-size="17.55" text-anchor="middle">180</text>
<text x="547.25" y="328.2" font-size="17.55" text-anchor="middle">200</text>
<text x="103.2" y="32.60" font-size="17.55" text-anchor="end">0.0002</text>
<text x="103.2" y="68.00" font-size="17.55" text-anchor="end">0.0000</text>
<text x="103.2" y="103.40" font-size="17.55" text-anchor="end">−0.0002</text>
<text x="103.2" y="138.80" font-size="17.55" text-anchor="end">−0.0004</text>
<text x="103.2" y="174.20" font-size="17.55" text-anchor="end">−0.0006</text>
<text x="103.2" y="209.60" font-size="17.55" text-anchor="end">−0.0008</text>
<text x="103.2" y="245.00" font-size="17.55" text-anchor="end">−0.0010</text>
<text x="103.2" y="280.40" font-size="17.55" text-anchor="end">−0.0012</text>
<text x="307.6" y="349.7" font-size="20.0"><tspan class="it">t</tspan><tspan dx="0.8">/</tspan><tspan class="it" dx="0.8">P</tspan><tspan font-size="15.2" dx="1.0" dy="5.2">0</tspan></text>
<text transform="translate(18.9 207.3) rotate(-90)" font-size="21.75"><tspan class="it">a</tspan><tspan dx="1.5">/</tspan><tspan class="it" dx="-0.3">a</tspan><tspan dx="-0.4">(</tspan><tspan dx="-0.4">0</tspan><tspan dx="-0.6">)</tspan><tspan dx="4.0">−</tspan><tspan dx="3.8">1</tspan></text>
<rect x="318" y="10.7" width="220.8" height="81.6" rx="3.5" fill="#fff" fill-opacity="0.8" stroke="#ccc" stroke-width="0.87"/>
<path d="M324.6 24.8 h35.5" stroke="#1f77b4" stroke-width="2.7" stroke-dasharray="9.6 4.2" fill="none"/>
<path d="M324.6 50.1 h35.5" stroke="#ff7f0e" stroke-width="1.3" fill="none"/>
<path d="M324.6 75.4 h35.5" stroke="#2ca02c" stroke-width="2.6" stroke-dasharray="2.6 3.7" fill="none"/>
<text x="373.7" y="31.00" font-size="17.55">sBH averaged</text>
<text x="373.7" y="56.30" font-size="17.55">IMBH</text>
<text x="373.7" y="81.60" font-size="17.55">sBH driven by gas</text>
</svg></body></html>
